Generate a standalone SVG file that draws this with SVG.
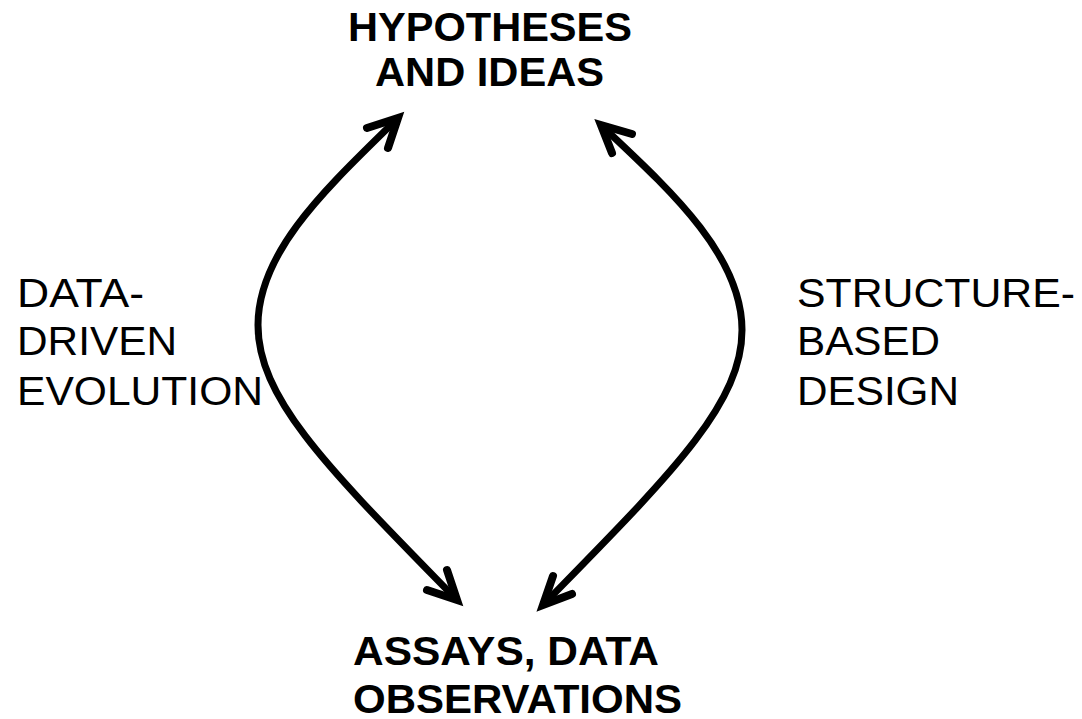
<svg xmlns="http://www.w3.org/2000/svg" width="1082" height="719" viewBox="0 0 1082 719">
<style>
.b{font-family:"Liberation Sans",Arial,sans-serif;font-weight:bold;font-size:40px;fill:#000}
.r{font-family:"Liberation Sans",Arial,sans-serif;font-size:40px;fill:#000}
.c{fill:none;stroke:#000;stroke-width:7;stroke-linecap:butt}
.h{fill:none;stroke:#000;stroke-width:8;stroke-linecap:round;stroke-linejoin:miter;stroke-miterlimit:10}
</style>
<rect width="1082" height="719" fill="#fff"/>
<g id="hypotheses">
<text class="b" x="348" y="41" textLength="284" lengthAdjust="spacingAndGlyphs">HYPOTHESES</text>
<text class="b" x="375" y="86" textLength="229" lengthAdjust="spacingAndGlyphs">AND IDEAS</text>
</g>
<g id="assays">
<text class="b" x="353" y="665" textLength="306" lengthAdjust="spacingAndGlyphs">ASSAYS, DATA</text>
<text class="b" x="353" y="713" textLength="329" lengthAdjust="spacingAndGlyphs">OBSERVATIONS</text>
</g>
<g id="label-left">
<text class="r" x="17" y="307" textLength="127" lengthAdjust="spacingAndGlyphs">DATA-</text>
<text class="r" x="17" y="355" textLength="160" lengthAdjust="spacingAndGlyphs">DRIVEN</text>
<text class="r" x="17" y="405" textLength="246" lengthAdjust="spacingAndGlyphs">EVOLUTION</text>
</g>
<g id="label-right">
<text class="r" x="797" y="307" textLength="278" lengthAdjust="spacingAndGlyphs">STRUCTURE-</text>
<text class="r" x="797" y="355" textLength="143" lengthAdjust="spacingAndGlyphs">BASED</text>
<text class="r" x="797" y="405" textLength="162" lengthAdjust="spacingAndGlyphs">DESIGN</text>
</g>
<g id="connectors">
<path class="c" d="M396,120 C330,185 258,250 258,325 C258,400 330,470 455,598"/>
<path class="h" d="M367,128 L398,118 L388,148"/>
<path class="h" d="M447,570 L457,600 L427,590"/>
<path class="c" d="M603,127 C670,190 742,255 742,330 C742,405 670,475 545,603"/>
<path class="h" d="M632,134 L601,125 L612,153"/>
<path class="h" d="M553,576 L543,605 L572,594"/>
</g>
</svg>
